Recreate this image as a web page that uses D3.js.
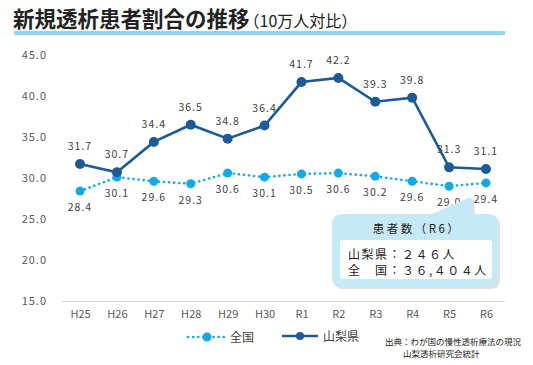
<!DOCTYPE html>
<html>
<head>
<meta charset="utf-8">
<script src="https://cdn.jsdelivr.net/npm/d3@7"></script>
<style>
  body { margin: 0; background: #fff; }
  svg { font-family: "Noto Sans CJK JP", "Noto Sans", sans-serif; }
</style>
</head>
<body>
<div id="chart"></div>
<script>
const years = ["H25", "H26", "H27", "H28", "H29", "H30", "R1", "R2", "R3", "R4", "R5", "R6"];
const yamanashi = [31.7, 30.7, 34.4, 36.5, 34.8, 36.4, 41.7, 42.2, 39.3, 39.8, 31.3, 31.1];
const zenkoku = [28.4, 30.1, 29.6, 29.3, 30.6, 30.1, 30.5, 30.6, 30.2, 29.6, 29.0, 29.4];
const yTicks = [15, 20, 25, 30, 35, 40, 45];

const width = 533;
const height = 365;
const darkBlue = "#1d5a96";
const cyan = "#12a9e6";

const svg = d3.select("#chart")
    .append("svg")
    .attr("width", width)
    .attr("height", height);

// Title
const title = svg.append("text")
    .attr("x", 13)
    .attr("y", 27)
    .attr("fill", "#222");
title.append("tspan")
    .attr("font-size", 21.5)
    .attr("font-weight", "bold")
    .text("新規透析患者割合の推移");
title.append("tspan")
    .attr("font-size", 16)
    .text("（10万人対比）")
    .attr("dx", -6);

svg.append("rect")
    .attr("x", 14)
    .attr("y", 31)
    .attr("width", 491)
    .attr("height", 4)
    .attr("fill", "#8fd6f4");

// Scales
const x = d3.scalePoint()
    .domain(years)
    .range([80, 486]);

const y = d3.scaleLinear()
    .domain([15, 45])
    .range([301, 55]);

// Y axis (labels only)
const yAxis = svg.append("g")
    .attr("transform", "translate(50,0)")
    .call(d3.axisLeft(y).tickValues(yTicks).tickFormat(d3.format(".1f")).tickSize(0).tickPadding(3));
yAxis.select(".domain").remove();
yAxis.selectAll("text")
    .attr("font-size", 11)
    .attr("fill", "#595959")
    .attr("font-family", "'Noto Sans CJK JP', sans-serif")
    .attr("letter-spacing", 1);

// X axis
const xAxis = svg.append("g")
    .attr("transform", "translate(0,301)")
    .call(d3.axisBottom(x).tickSize(0).tickPadding(9));
xAxis.select(".domain")
    .attr("d", "M62,0.5H505")
    .attr("stroke", "#d9d9d9")
    .attr("stroke-width", 1);
xAxis.selectAll("text")
    .attr("font-size", 11)
    .attr("fill", "#595959")
    .attr("font-family", "'Noto Sans CJK JP', sans-serif");

const line = d3.line()
    .x((d, i) => x(years[i]))
    .y(d => y(d));

// National (dotted)
svg.append("path")
    .datum(zenkoku)
    .attr("fill", "none")
    .attr("stroke", cyan)
    .attr("stroke-width", 2.6)
    .attr("stroke-linecap", "round")
    .attr("stroke-dasharray", "0.1,5")
    .attr("d", line);

svg.selectAll(".dot-z")
    .data(zenkoku)
    .enter()
    .append("circle")
    .attr("class", "dot-z")
    .attr("cx", (d, i) => x(years[i]))
    .attr("cy", d => y(d))
    .attr("r", 4.5)
    .attr("fill", cyan);

// Yamanashi (solid)
svg.append("path")
    .datum(yamanashi)
    .attr("fill", "none")
    .attr("stroke", darkBlue)
    .attr("stroke-width", 2.6)
    .attr("d", line);

svg.selectAll(".dot-y")
    .data(yamanashi)
    .enter()
    .append("circle")
    .attr("class", "dot-y")
    .attr("cx", (d, i) => x(years[i]))
    .attr("cy", d => y(d))
    .attr("r", 5)
    .attr("fill", darkBlue);

// Value labels
svg.selectAll(".lab-y")
    .data(yamanashi)
    .enter()
    .append("text")
    .attr("class", "lab-y")
    .attr("x", (d, i) => x(years[i]))
    .attr("y", d => y(d) - 14)
    .attr("text-anchor", "middle")
    .attr("font-size", 10.5)
    .attr("letter-spacing", 1)
    .attr("fill", "#404040")
    .text(d => d3.format(".1f")(d));

svg.selectAll(".lab-z")
    .data(zenkoku)
    .enter()
    .append("text")
    .attr("class", "lab-z")
    .attr("x", (d, i) => x(years[i]))
    .attr("y", d => y(d) + 20)
    .attr("text-anchor", "middle")
    .attr("font-size", 10.5)
    .attr("letter-spacing", 1)
    .attr("fill", "#404040")
    .text(d => d3.format(".1f")(d));

// Callout box
const callout = svg.append("g");
const r = 10;
const bx0 = 332, bx1 = 498, by0 = 214, by1 = 287;
const calloutPath = `M${bx0 + r},${by0} L432,${by0} L468,198 L472,198 L473,${by0} L${bx1 - r},${by0}
  Q${bx1},${by0} ${bx1},${by0 + r} L${bx1},${by1 - r} Q${bx1},${by1} ${bx1 - r},${by1}
  L${bx0 + r},${by1} Q${bx0},${by1} ${bx0},${by1 - r} L${bx0},${by0 + r} Q${bx0},${by0} ${bx0 + r},${by0} Z`;
callout.append("path")
    .attr("d", calloutPath)
    .attr("transform", "translate(2,2)")
    .attr("fill", "#c8ccd0")
    .attr("opacity", 0.6);
callout.append("path")
    .attr("d", calloutPath)
    .attr("fill", "#c6e9f8");
callout.append("rect")
    .attr("x", 340)
    .attr("y", 240)
    .attr("width", 152)
    .attr("height", 39)
    .attr("rx", 3)
    .attr("fill", "#fff");
callout.append("text")
    .attr("x", 417)
    .attr("y", 233)
    .attr("text-anchor", "middle")
    .attr("font-size", 11.5)
    .attr("letter-spacing", 2.5)
    .attr("fill", "#222")
    .text("患者数（R6）");
callout.append("text")
    .attr("x", 348)
    .attr("y", 259)
    .attr("font-size", 12)
    .attr("letter-spacing", 1.5)
    .attr("fill", "#222")
    .text("山梨県：２４６人");
callout.append("text")
    .attr("x", 348)
    .attr("y", 275)
    .attr("font-size", 12)
    .attr("letter-spacing", 1.5)
    .attr("fill", "#222")
    .text("全　国：３６,４０４人");

// Legend
const legend = svg.append("g");
legend.append("line")
    .attr("x1", 188).attr("x2", 226)
    .attr("y1", 337).attr("y2", 337)
    .attr("stroke", cyan)
    .attr("stroke-width", 2.6)
    .attr("stroke-linecap", "round")
    .attr("stroke-dasharray", "0.1,5");
legend.append("circle")
    .attr("cx", 207).attr("cy", 337).attr("r", 4.5)
    .attr("fill", cyan);
legend.append("text")
    .attr("x", 230).attr("y", 341.5)
    .attr("font-size", 12)
    .attr("fill", "#404040")
    .text("全国");
legend.append("line")
    .attr("x1", 282).attr("x2", 318)
    .attr("y1", 336).attr("y2", 336)
    .attr("stroke", darkBlue)
    .attr("stroke-width", 2.6);
legend.append("circle")
    .attr("cx", 300).attr("cy", 336).attr("r", 4)
    .attr("fill", darkBlue);
legend.append("text")
    .attr("x", 323).attr("y", 340.5)
    .attr("font-size", 12)
    .attr("fill", "#404040")
    .text("山梨県");

// Source
svg.append("text")
    .attr("x", 385).attr("y", 345)
    .attr("font-size", 8.5)
    .attr("fill", "#222")
    .text("出典：わが国の慢性透析療法の現況");
svg.append("text")
    .attr("x", 403).attr("y", 357)
    .attr("font-size", 8.5)
    .attr("fill", "#222")
    .text("山梨透析研究会統計");
</script>
</body>
</html>
